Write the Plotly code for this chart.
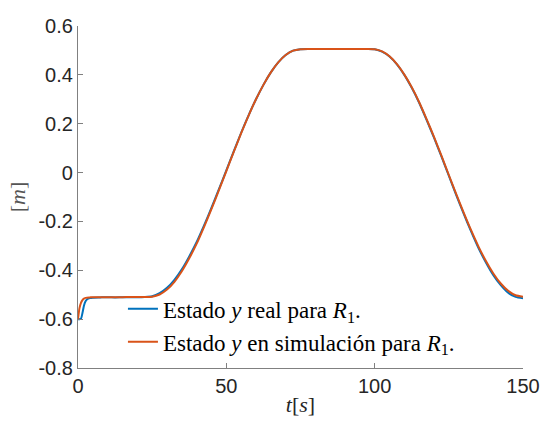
import plotly.graph_objects as go

# time samples [s]
t = [0, 0.5, 1, 1.5, 2, 2.5, 3, 4, 5, 7.5, 10, 12.5, 15, 17.5, 20, 22.5,
     25, 27.5, 30, 32.5, 35, 37.5, 40, 42.5, 45, 47.5, 50, 52.5, 55, 57.5,
     60, 62.5, 65, 67.5, 70, 72.5, 75, 77.5, 80, 82.5, 85, 87.5, 90, 92.5,
     95, 97.5, 100, 102.5, 105, 107.5, 110, 112.5, 115, 117.5, 120, 122.5,
     125, 127.5, 130, 132.5, 135, 137.5, 140, 142.5, 145, 147.5, 150]

# state y, real (R1)
y_real = [-0.600, -0.600, -0.598, -0.575, -0.545, -0.528, -0.520, -0.514, -0.512,
          -0.511, -0.510, -0.511, -0.510, -0.510, -0.510, -0.509,
          -0.506, -0.494, -0.472, -0.439, -0.396, -0.343, -0.284, -0.216,
          -0.144, -0.068, 0.009, 0.087, 0.163, 0.234, 0.300, 0.359, 0.410,
          0.451, 0.481, 0.499, 0.505, 0.506, 0.506, 0.506, 0.506, 0.506,
          0.506, 0.506, 0.506, 0.506, 0.505, 0.495, 0.475, 0.443, 0.400,
          0.347, 0.286, 0.216, 0.143, 0.066, -0.013, -0.092, -0.168, -0.241,
          -0.309, -0.368, -0.420, -0.461, -0.492, -0.509, -0.515]

# state y, simulation (R1)
y_sim = [-0.600, -0.555, -0.533, -0.522, -0.516, -0.513, -0.512, -0.511, -0.510,
         -0.510, -0.510, -0.510, -0.510, -0.509, -0.509, -0.509,
         -0.508, -0.499, -0.479, -0.447, -0.404, -0.351, -0.291, -0.222,
         -0.149, -0.072, 0.006, 0.085, 0.161, 0.233, 0.300, 0.359, 0.410,
         0.451, 0.481, 0.499, 0.505, 0.506, 0.506, 0.506, 0.506, 0.506,
         0.506, 0.506, 0.506, 0.506, 0.505, 0.496, 0.476, 0.444, 0.401,
         0.349, 0.288, 0.219, 0.146, 0.069, -0.010, -0.088, -0.164, -0.236,
         -0.303, -0.362, -0.413, -0.454, -0.484, -0.502, -0.508]

x_ticks = [0, 50, 100, 150]
x_ticktext = ["0", "50", "100", "150"]
y_ticks = [-0.8, -0.6, -0.4, -0.2, 0, 0.2, 0.4, 0.6]
y_ticktext = ["-0.8", "-0.6", "-0.4", "-0.2", "0", "0.2", "0.4", "0.6"]

fig = go.Figure()
fig.add_trace(go.Scatter(x=t, y=y_real, mode="lines",
                         line=dict(color="#0072BD", width=2, shape="spline", smoothing=0.6),
                         name="Estado <i>y</i> real para <i>R</i><sub>1</sub>."))
fig.add_trace(go.Scatter(x=t, y=y_sim, mode="lines",
                         line=dict(color="#D95319", width=2, shape="spline", smoothing=0.6),
                         name="Estado <i>y</i> en simulación para <i>R</i><sub>1</sub>."))

axis_common = dict(showline=True, linecolor="#808080", linewidth=1.3,
                   ticks="inside", ticklen=5, tickcolor="#808080", tickwidth=1,
                   showgrid=False, zeroline=False, mirror=False, automargin=False,
                   tickfont=dict(family="Liberation Sans, Arial, sans-serif", size=20, color="#262626"))

fig.update_layout(
    width=544, height=421,
    margin=dict(l=78, r=21, t=26, b=53),
    paper_bgcolor="white", plot_bgcolor="white",
    showlegend=True,
    legend=dict(x=0.101, y=0.236, xanchor="left", yanchor="top",
                bgcolor="rgba(0,0,0,0)",
                font=dict(family="Liberation Serif, Times New Roman, serif", size=23, color="#000000")),
    xaxis=dict(range=[0, 150], tickvals=x_ticks, ticktext=x_ticktext,
               title=dict(text="<i>t</i>[<i>s</i>]", standoff=0,
                          font=dict(family="Liberation Serif, serif", size=22, color="#262626")),
               **axis_common),
    yaxis=dict(range=[-0.8, 0.6], tickvals=y_ticks, ticktext=y_ticktext,
               title=dict(text="[<i>m</i>]", standoff=6,
                          font=dict(family="Liberation Serif, serif", size=22, color="#555555")),
               **axis_common),
)

fig.write_html("out.html")
